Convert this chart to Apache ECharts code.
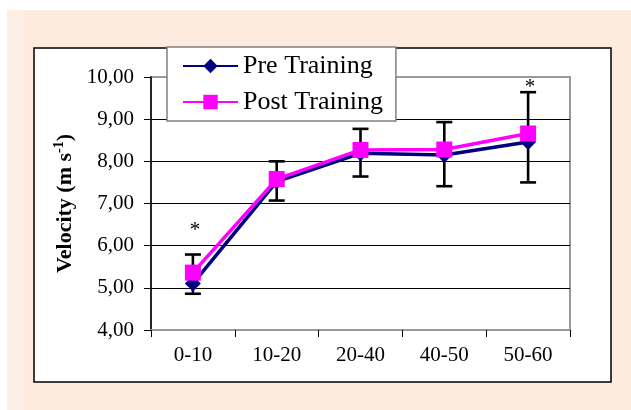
<!DOCTYPE html>
<html><head><meta charset="utf-8">
<script src="https://cdn.jsdelivr.net/npm/echarts@6/dist/echarts.min.js"></script>
<style>html,body{margin:0;padding:0;background:#fff}#c{width:631px;height:410px}</style>
</head><body><div id="c"></div>
<script>
const categories = ['0-10', '10-20', '20-40', '40-50', '50-60'];
const preTraining = [5.10, 7.52, 8.19, 8.15, 8.46];
const postTraining = [5.36, 7.58, 8.27, 8.28, 8.66];
const errLow = [4.86, 7.07, 7.64, 7.41, 7.50];
const errHigh = [5.79, 8.00, 8.77, 8.93, 9.64];
const starY = [6.35, null, null, null, 9.76];
const yTicks = [4, 5, 6, 7, 8, 9, 10];

const FONT = '"Liberation Serif", "Times New Roman", serif';
const chart = echarts.init(document.getElementById('c'));

chart.setOption({
  backgroundColor: '#ffffff',
  animation: false,
  graphic: [
    { type: 'rect', z: -10, shape: { x: 7, y: 10, width: 624, height: 400 }, style: { fill: '#FDEBE0' } },
    { type: 'rect', z: -9, shape: { x: 7, y: 10, width: 17, height: 400 }, style: { fill: '#FEEFE6' } },
    { type: 'rect', z: -8, shape: { x: 34, y: 48, width: 577, height: 334 }, style: { fill: '#ffffff', stroke: '#000', lineWidth: 1.5 } }
  ],
  grid: { left: 151, right: 61, top: 77, bottom: 80, show: true, borderColor: '#999999', borderWidth: 2, backgroundColor: 'transparent' },
  legend: {
    orient: 'vertical', left: 167, top: 47,
    backgroundColor: '#ffffff', borderColor: '#808080', borderWidth: 1.5,
    padding: [6, 13, 6, 15], itemGap: 10,
    itemWidth: 55, itemHeight: 18,
    textStyle: { fontFamily: FONT, fontSize: 26, color: '#000' },
    data: ['Pre Training', 'Post Training']
  },
  xAxis: {
    type: 'category', data: categories, boundaryGap: true,
    axisLine: { show: true, lineStyle: { color: '#999999', width: 2 } },
    axisTick: { show: true, interval: 0, length: 7, lineStyle: { color: '#000', width: 1 } },
    axisLabel: { fontFamily: FONT, fontSize: 21, color: '#000', margin: 15 },
    splitLine: { show: false }
  },
  yAxis: {
    type: 'value', min: 4, max: 10, interval: 1,
    name: 'Velocity (m s{sup|-1})', nameLocation: 'middle', nameGap: 66, nameRotate: 90,
    nameTextStyle: { fontFamily: FONT, fontSize: 22, fontWeight: 'bold', color: '#000',
      rich: { sup: { fontFamily: FONT, fontSize: 14, fontWeight: 'bold', color: '#000', verticalAlign: 'top', padding: [0, 0, 10, 0] } } },
    axisLine: { show: true, lineStyle: { color: '#000', width: 1.5 } },
    axisTick: { show: true, length: 7, lineStyle: { color: '#000', width: 1 } },
    axisLabel: { fontFamily: FONT, fontSize: 21, color: '#000', margin: 17,
      formatter: v => yTicks.includes(v) ? v.toFixed(2).replace('.', ',') : '' },
    splitLine: { show: true, showMaxLine: false, showMinLine: false, lineStyle: { color: '#000', width: 1 } }
  },
  series: [
    {
      name: 'errors', type: 'custom', z: 2,
      data: categories.map((c, i) => [i, errLow[i], errHigh[i]]),
      renderItem: (params, api) => {
        const x = api.value(0);
        const lo = api.coord([x, api.value(1)]);
        const hi = api.coord([x, api.value(2)]);
        const w = 8;
        const st = { stroke: '#000', lineWidth: 2.6 };
        return { type: 'group', children: [
          { type: 'line', shape: { x1: lo[0], y1: lo[1], x2: hi[0], y2: hi[1] }, style: st },
          { type: 'line', shape: { x1: lo[0] - w, y1: lo[1], x2: lo[0] + w, y2: lo[1] }, style: st },
          { type: 'line', shape: { x1: hi[0] - w, y1: hi[1], x2: hi[0] + w, y2: hi[1] }, style: st }
        ]};
      }
    },
    {
      name: 'Pre Training', type: 'line', z: 3, data: preTraining,
      symbol: 'diamond', symbolSize: 16,
      lineStyle: { color: '#000080', width: 3.5 },
      itemStyle: { color: '#000080' }
    },
    {
      name: 'Post Training', type: 'line', z: 4, data: postTraining,
      symbol: 'rect', symbolSize: 16,
      lineStyle: { color: '#FF00FF', width: 3.5 },
      itemStyle: { color: '#FF00FF' }
    },
    {
      name: 'stars', type: 'custom', z: 5,
      data: categories.map((c, i) => [i, starY[i]]).filter(d => d[1] != null),
      renderItem: (params, api) => {
        const p = api.coord([api.value(0), api.value(1)]);
        return { type: 'text', style: { text: '*', x: p[0] + 2, y: p[1], fontFamily: FONT, fontSize: 21, fill: '#000', align: 'center', verticalAlign: 'middle' } };
      }
    }
  ]
});
</script></body></html>
